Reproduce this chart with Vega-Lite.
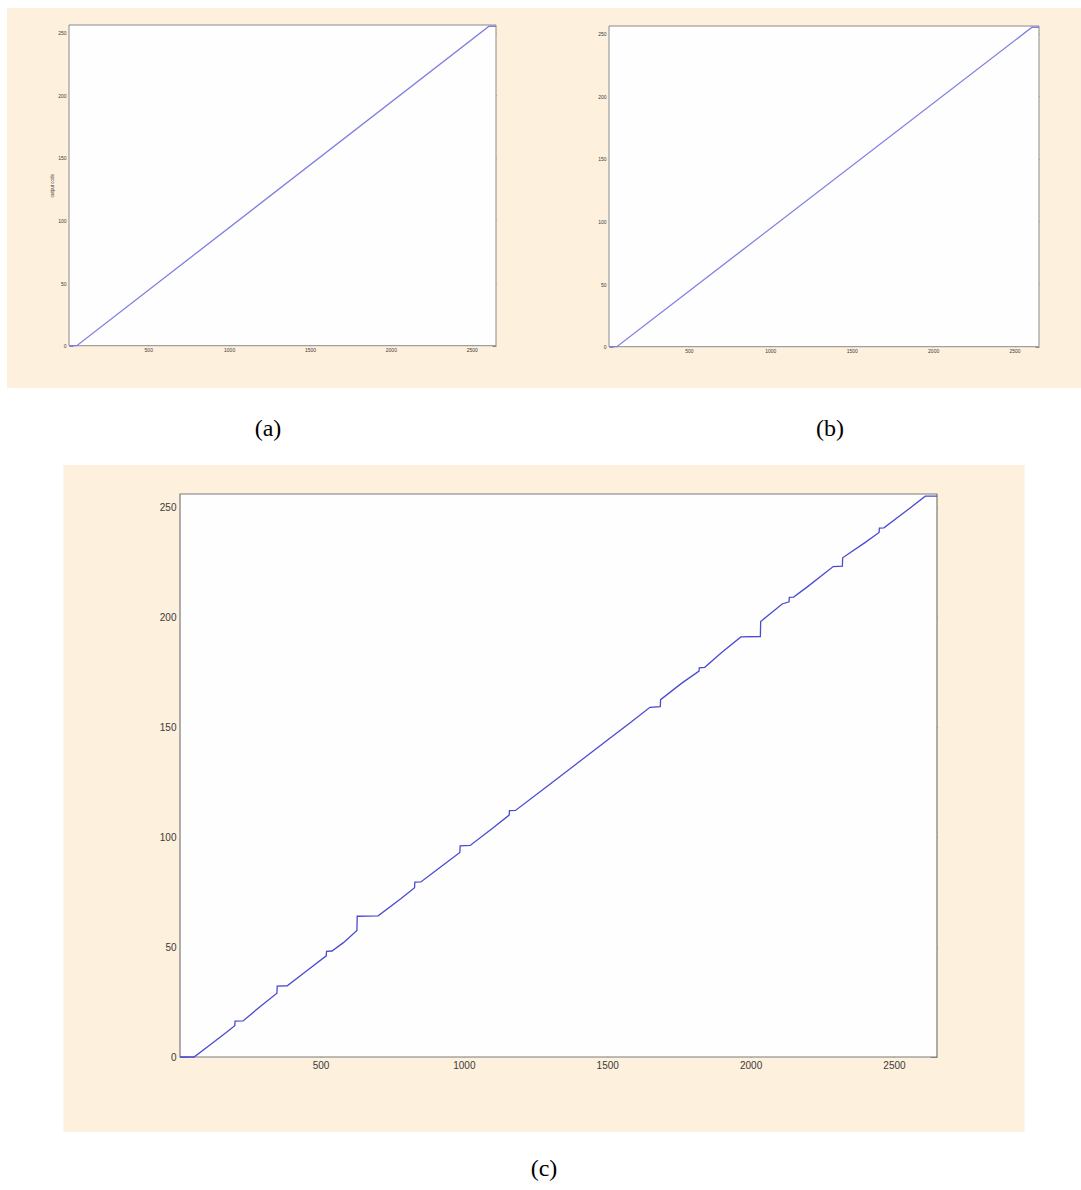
{
  "$schema": "https://vega.github.io/schema/vega-lite/v6.json",
  "background": "#ffffff",
  "padding": {"left": 7, "top": 8, "right": 0, "bottom": 0},
  "config": {
    "view": {"stroke": null},
    "axis": {"grid": false, "domain": false, "tickColor": "#8a8a8a", "tickWidth": 1, "labelFont": "Liberation Sans", "labelColor": "#3a3a3a", "format": "d"},
    "title": {"font": "Liberation Serif", "fontSize": 24, "fontWeight": "normal", "color": "#000000", "orient": "bottom", "anchor": "middle"}
  },
  "datasets": {
    "ramp": [
      {"x": 10, "y": 0}, {"x": 58, "y": 0}, {"x": 2607, "y": 255}, {"x": 2650, "y": 255}
    ],
    "measured": [
      {"x": 10, "y": 0}, {"x": 59, "y": 0}, {"x": 120, "y": 6}, {"x": 170, "y": 11},
      {"x": 201, "y": 14.2}, {"x": 202, "y": 16.3}, {"x": 230, "y": 16.4}, {"x": 290, "y": 23},
      {"x": 348, "y": 29}, {"x": 349, "y": 32.2}, {"x": 384, "y": 32.4}, {"x": 450, "y": 39},
      {"x": 520, "y": 46}, {"x": 521, "y": 48}, {"x": 540, "y": 48.2}, {"x": 580, "y": 52},
      {"x": 627, "y": 57.5}, {"x": 628, "y": 64}, {"x": 701, "y": 64.2}, {"x": 780, "y": 72},
      {"x": 828, "y": 77}, {"x": 829, "y": 79.5}, {"x": 850, "y": 79.6}, {"x": 920, "y": 86.5},
      {"x": 986, "y": 93}, {"x": 987, "y": 96}, {"x": 1022, "y": 96.2}, {"x": 1100, "y": 104},
      {"x": 1158, "y": 110}, {"x": 1159, "y": 112}, {"x": 1180, "y": 112.1}, {"x": 1300, "y": 124},
      {"x": 1400, "y": 134}, {"x": 1500, "y": 144}, {"x": 1580, "y": 152}, {"x": 1649, "y": 159},
      {"x": 1685, "y": 159.3}, {"x": 1686, "y": 162.5}, {"x": 1760, "y": 170}, {"x": 1820, "y": 175.5},
      {"x": 1821, "y": 177}, {"x": 1840, "y": 177.2}, {"x": 1900, "y": 184}, {"x": 1966, "y": 191},
      {"x": 2034, "y": 191.2}, {"x": 2035, "y": 198}, {"x": 2110, "y": 206}, {"x": 2134, "y": 207},
      {"x": 2135, "y": 209}, {"x": 2150, "y": 209.1}, {"x": 2200, "y": 214}, {"x": 2288, "y": 223},
      {"x": 2320, "y": 223.2}, {"x": 2321, "y": 227}, {"x": 2400, "y": 234}, {"x": 2448, "y": 238.5},
      {"x": 2449, "y": 240.5}, {"x": 2465, "y": 240.6}, {"x": 2540, "y": 248}, {"x": 2609, "y": 255},
      {"x": 2650, "y": 255}
    ]
  },
  "vconcat": [
    {
      "hconcat": [
        {
          "width": 541, "height": 380,
          "view": {"fill": "#fdf0dc", "stroke": null},
          "title": {"text": "(a)", "dx": -9.5, "offset": 29},
          "layer": [
            {
              "data": {"values": [{}]},
              "mark": {"type": "rect", "fill": "#fefefe", "stroke": "#8a8a8a", "strokeWidth": 1},
              "encoding": {
                "x": {"datum": 10, "type": "quantitative",
                      "scale": {"domain": [10, 2650], "range": [62, 489], "nice": false, "zero": false},
                      "axis": {"orient": "bottom", "offset": -42.3, "values": [500, 1000, 1500, 2000, 2500], "tickSize": -4, "labelPadding": 6, "labelFontSize": 5, "title": null}},
                "x2": {"datum": 2650},
                "y": {"datum": 0, "type": "quantitative",
                      "scale": {"domain": [0, 256], "range": [337.7, 17], "nice": false, "zero": false},
                      "axis": {"orient": "left", "offset": -62, "values": [0, 50, 100, 150, 200, 250], "tickSize": -4, "labelPadding": 7, "labelFontSize": 5, "title": "output code", "titleFontSize": 4.5, "titleFont": "Liberation Sans", "titleFontWeight": "normal", "titleColor": "#444444", "titlePadding": 3}},
                "y2": {"datum": 256}
              }
            },
            {
              "data": {"name": "ramp"},
              "mark": {"type": "line", "stroke": "#7f7fe2", "strokeWidth": 1.3},
              "encoding": {
                "x": {"field": "x", "type": "quantitative",
                      "scale": {"domain": [10, 2650], "range": [62, 489], "nice": false, "zero": false},
                      "axis": {"orient": "top", "offset": -17, "values": [500, 1000, 1500, 2000, 2500], "tickSize": -4, "labels": false, "title": null}},
                "y": {"field": "y", "type": "quantitative",
                      "scale": {"domain": [0, 256], "range": [337.7, 17], "nice": false, "zero": false},
                      "axis": {"orient": "right", "offset": -52, "values": [0, 50, 100, 150, 200, 250], "tickSize": -4, "labels": false, "title": null}}
              }
            }
          ],
          "resolve": {"axis": {"x": "independent", "y": "independent"}}
        },
        {
          "width": 533, "height": 380,
          "view": {"fill": "#fdf0dc", "stroke": null},
          "title": {"text": "(b)", "dx": 15.5, "offset": 29},
          "layer": [
            {
              "data": {"values": [{}]},
              "mark": {"type": "rect", "fill": "#fefefe", "stroke": "#8a8a8a", "strokeWidth": 1},
              "encoding": {
                "x": {"datum": 10, "type": "quantitative",
                      "scale": {"domain": [10, 2650], "range": [61, 491], "nice": false, "zero": false},
                      "axis": {"orient": "bottom", "offset": -41.3, "values": [500, 1000, 1500, 2000, 2500], "tickSize": -4, "labelPadding": 6, "labelFontSize": 5, "title": null}},
                "x2": {"datum": 2650},
                "y": {"datum": 0, "type": "quantitative",
                      "scale": {"domain": [0, 256], "range": [338.7, 18], "nice": false, "zero": false},
                      "axis": {"orient": "left", "offset": -61, "values": [0, 50, 100, 150, 200, 250], "tickSize": -4, "labelPadding": 7, "labelFontSize": 5, "title": null}},
                "y2": {"datum": 256}
              }
            },
            {
              "data": {"name": "ramp"},
              "mark": {"type": "line", "stroke": "#7f7fe2", "strokeWidth": 1.3},
              "encoding": {
                "x": {"field": "x", "type": "quantitative",
                      "scale": {"domain": [10, 2650], "range": [61, 491], "nice": false, "zero": false},
                      "axis": {"orient": "top", "offset": -18, "values": [500, 1000, 1500, 2000, 2500], "tickSize": -4, "labels": false, "title": null}},
                "y": {"field": "y", "type": "quantitative",
                      "scale": {"domain": [0, 256], "range": [338.7, 18], "nice": false, "zero": false},
                      "axis": {"orient": "right", "offset": -42, "values": [0, 50, 100, 150, 200, 250], "tickSize": -4, "labels": false, "title": null}}
              }
            }
          ],
          "resolve": {"axis": {"x": "independent", "y": "independent"}}
        }
      ],
      "spacing": 0,
      "bounds": "flush"
    },
    {
      "width": 961, "height": 667,
      "view": {"fill": "#fdf0dc", "stroke": null},
      "title": {"text": "(c)", "offset": 25},
      "layer": [
        {
          "data": {"values": [{}]},
          "mark": {"type": "rect", "fill": "#fefefe", "stroke": "#7a7a7a", "strokeWidth": 1.2},
          "encoding": {
            "x": {"datum": 10, "type": "quantitative",
                  "scale": {"domain": [10, 2650], "range": [116.5, 873.5], "nice": false, "zero": false},
                  "axis": {"orient": "bottom", "offset": -75, "values": [500, 1000, 1500, 2000, 2500], "tickSize": -7, "labelPadding": 10, "labelFontSize": 10, "title": null}},
            "x2": {"datum": 2650},
            "y": {"datum": 0, "type": "quantitative",
                  "scale": {"domain": [0, 256], "range": [592, 29], "nice": false, "zero": false},
                  "axis": {"orient": "left", "offset": -116.5, "values": [0, 50, 100, 150, 200, 250], "tickSize": -7, "labelPadding": 11, "labelFontSize": 10, "title": null}},
            "y2": {"datum": 256}
          }
        },
        {
          "data": {"name": "measured"},
          "mark": {"type": "line", "stroke": "#4a4ad2", "strokeWidth": 1.3},
          "encoding": {
            "x": {"field": "x", "type": "quantitative",
                  "scale": {"domain": [10, 2650], "range": [116.5, 873.5], "nice": false, "zero": false},
                  "axis": {"orient": "top", "offset": -29, "values": [500, 1000, 1500, 2000, 2500], "tickSize": -7, "labels": false, "title": null}},
            "y": {"field": "y", "type": "quantitative",
                  "scale": {"domain": [0, 256], "range": [592, 29], "nice": false, "zero": false},
                  "axis": {"orient": "right", "offset": -87.5, "values": [0, 50, 100, 150, 200, 250], "tickSize": -7, "labels": false, "title": null}}
          }
        }
      ],
      "resolve": {"axis": {"x": "independent", "y": "independent"}}
    }
  ],
  "spacing": 24,
  "bounds": "full",
  "center": true
}
